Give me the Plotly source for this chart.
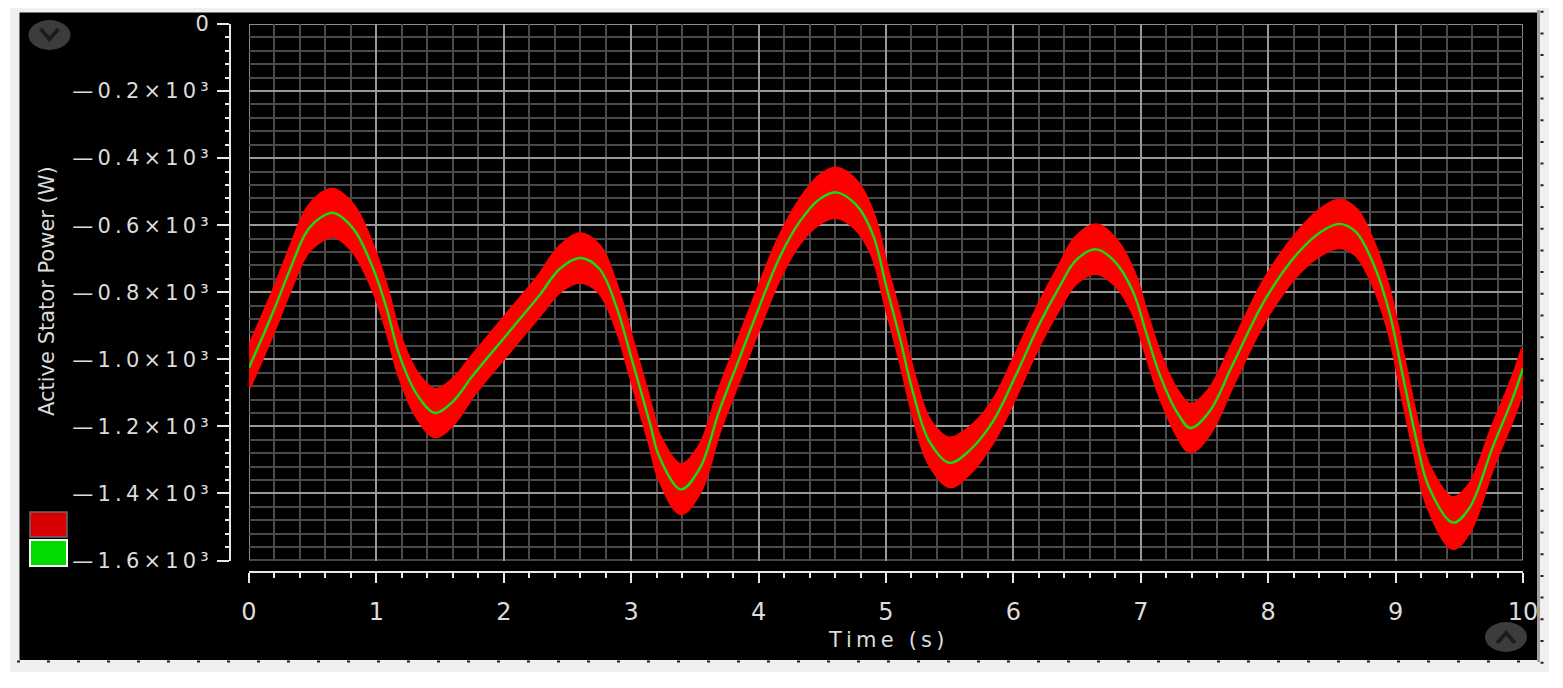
import plotly.graph_objects as go

# ---------------- data ----------------
time_s = [0.00, 0.19, 0.32, 0.45, 0.56, 0.66, 0.82, 0.975, 1.08, 1.18, 1.32, 1.46, 1.60, 1.76,
          2.02, 2.28, 2.44, 2.60, 2.75, 2.88, 3.01, 3.15, 3.22, 3.39, 3.54, 3.69, 3.85, 4.01,
          4.16, 4.32, 4.48, 4.61, 4.77, 4.90, 5.00, 5.11, 5.21, 5.34, 5.50, 5.65, 5.84, 6.02,
          6.20, 6.36, 6.49, 6.65, 6.80, 6.94, 7.04, 7.15, 7.28, 7.39, 7.54, 7.72, 7.98, 8.24,
          8.43, 8.56, 8.69, 8.82, 8.95, 9.05, 9.16, 9.26, 9.45, 9.58, 9.76, 9.92, 10.0]

green_w = [-1025, -858, -734, -621, -578, -563, -611, -730, -848, -987, -1106, -1160, -1126, -1047,
           -928, -809, -730, -698, -730, -839, -1007, -1195, -1290, -1388, -1324, -1155, -997, -839,
           -700, -591, -522, -502, -541, -631, -779, -938, -1096, -1245, -1309, -1274, -1185, -1047,
           -898, -785, -705, -672, -710, -799, -918, -1047, -1155, -1205, -1155, -1017, -819, -680,
           -616, -596, -621, -710, -858, -1037, -1235, -1380, -1487, -1443, -1264, -1115, -1027]

red_upper_w = [-967, -800, -676, -558, -510, -495, -545, -670, -790, -929, -1044, -1092, -1062, -989,
               -870, -751, -666, -628, -664, -779, -949, -1137, -1230, -1316, -1260, -1097, -939, -781,
               -642, -530, -455, -432, -473, -571, -721, -880, -1038, -1183, -1237, -1208, -1127, -989,
               -840, -725, -639, -601, -644, -739, -860, -989, -1093, -1137, -1091, -959, -761, -620,
               -550, -527, -555, -650, -800, -979, -1177, -1320, -1415, -1377, -1206, -1057, -969]

red_lower_w = [-1083, -916, -792, -684, -646, -631, -677, -790, -906, -1045, -1170, -1229, -1192, -1105,
               -986, -867, -796, -768, -798, -899, -1065, -1253, -1352, -1458, -1392, -1213, -1055, -897,
               -758, -652, -592, -575, -611, -693, -837, -996, -1154, -1309, -1378, -1340, -1243, -1105,
               -956, -845, -771, -742, -776, -859, -976, -1105, -1219, -1274, -1219, -1075, -877, -740,
               -682, -665, -687, -770, -916, -1095, -1293, -1442, -1562, -1511, -1322, -1173, -1085]

y_tick_values = [0, -200, -400, -600, -800, -1000, -1200, -1400, -1600]
y_tick_labels = ["0", "—0.2×10³", "—0.4×10³", "—0.6×10³", "—0.8×10³",
                 "—1.0×10³", "—1.2×10³", "—1.4×10³", "—1.6×10³"]
x_tick_values = [0, 1, 2, 3, 4, 5, 6, 7, 8, 9, 10]
x_tick_labels = ["0", "1", "2", "3", "4", "5", "6", "7", "8", "9", "10"]

x_title = "Time (s)"
y_title = "Active Stator Power (W)"

# ---------------- layout helpers (pixel -> paper) ----------------
W, H = 1563, 688
L, R, T, B = 230, 40, 24, 116
PW, PH = W - L - R, H - T - B


def px(x):
    return (x - L) / PW


def py(y):
    return (H - B - y) / PH


def spaced(s):
    return "\u2009".join(list(s))


TXT = "#dcdcdc"
FONT = "DejaVu Sans"
SMOOTH = 1.0

fig = go.Figure()

fig.add_trace(go.Scatter(x=time_s, y=red_lower_w, mode="lines",
                         line=dict(color="#ff0000", width=4.5, shape="spline", smoothing=SMOOTH),
                         hoverinfo="skip", showlegend=False))
fig.add_trace(go.Scatter(x=time_s, y=red_upper_w, mode="lines", fill="tonexty",
                         fillcolor="#ff0000",
                         line=dict(color="#ff0000", width=4.5, shape="spline", smoothing=SMOOTH),
                         hoverinfo="skip", showlegend=False))
fig.add_trace(go.Scatter(x=time_s, y=green_w, mode="lines",
                         line=dict(color="#10e010", width=2.4, shape="spline", smoothing=SMOOTH),
                         showlegend=False))

axis_common = dict(
    showline=True, linecolor="#e8e8e8", linewidth=2,
    ticks="outside", tickwidth=2, tickcolor="#e8e8e8",
    showgrid=True, gridcolor="#9a9a9a", gridwidth=1.5,
    zeroline=False, anchor="free", position=0,
)

fig.update_layout(
    width=W, height=H,
    margin=dict(l=L, r=R, t=T, b=B, pad=0),
    paper_bgcolor="white", plot_bgcolor="black",
    xaxis=dict(
        axis_common, range=[0, 10], domain=[19 / PW, 1],
        tickmode="array", tickvals=x_tick_values, ticktext=x_tick_labels,
        ticklen=10, ticklabelstandoff=8,
        tickfont=dict(family=FONT, size=24, color=TXT),
        minor=dict(tick0=0, dtick=0.2, ticks="outside", ticklen=5, tickwidth=2,
                   tickcolor="#e8e8e8", showgrid=True, gridcolor="#4a4a4a", gridwidth=1.5),
    ),
    yaxis=dict(
        axis_common, range=[-1600, 0], domain=[11.5 / PH, 1],
        tickmode="array", tickvals=y_tick_values,
        ticktext=[spaced(t) for t in y_tick_labels],
        ticklen=12, ticklabelstandoff=4,
        tickfont=dict(family=FONT, size=21, color=TXT),
        minor=dict(tick0=0, dtick=40, ticks="outside", ticklen=4, tickwidth=2,
                   tickcolor="#e8e8e8", showgrid=True, gridcolor="#4a4a4a", gridwidth=1.5),
    ),
    showlegend=False,
)

shapes = [
    # outer light-grey frame
    dict(type="rect", xref="paper", yref="paper", layer="below",
         x0=px(10), x1=px(1549), y0=py(672), y1=py(8),
         fillcolor="#f0f0f0", line=dict(width=0)),
    # black panel
    dict(type="rect", xref="paper", yref="paper", layer="below",
         x0=px(19.5), x1=px(1537), y0=py(660), y1=py(12.5),
         fillcolor="black", line=dict(width=0)),
    # right grey strip
    dict(type="line", xref="paper", yref="paper",
         x0=px(1538.5), x1=px(1538.5), y0=py(662), y1=py(10),
         line=dict(color="#a0a0a0", width=3)),
    # right ruler ticks
    dict(type="line", xref="paper", yref="paper",
         x0=px(1542), x1=px(1542), y0=py(10.7), y1=py(664),
         line=dict(color="#202020", width=3, dash="2px,19.7px")),
    # bottom dotted ruler
    dict(type="line", xref="paper", yref="paper",
         x0=px(17), x1=px(1546), y0=py(661.5), y1=py(661.5),
         line=dict(color="#202020", width=2, dash="3px,27px")),
    # plot border
    dict(type="rect", xref="x", yref="y", layer="below",
         x0=0, x1=10, y0=-1600, y1=0, line=dict(color="#8a8a8a", width=2)),
    # legend swatches
    dict(type="rect", xref="paper", yref="paper",
         x0=px(30), x1=px(67), y0=py(537), y1=py(512),
         fillcolor="#d80000", line=dict(color="#6a6a6a", width=1.5)),
    dict(type="rect", xref="paper", yref="paper",
         x0=px(30), x1=px(67), y0=py(566), y1=py(540),
         fillcolor="#00dc00", line=dict(color="white", width=2)),
    # top-left round button
    dict(type="circle", xref="paper", yref="paper",
         x0=px(28.5), x1=px(70.5), y0=py(50), y1=py(20),
         fillcolor="#3c3c3c", line=dict(width=0)),
    dict(type="path", xref="paper", yref="paper",
         path="M {} {} L {} {} L {} {}".format(px(40.5), py(29), px(49.5), py(39), px(58.5), py(29)),
         line=dict(color="#1c1c1c", width=4)),
    # bottom-right round button
    dict(type="circle", xref="paper", yref="paper",
         x0=px(1485), x1=px(1527), y0=py(652), y1=py(622),
         fillcolor="#3c3c3c", line=dict(width=0)),
    dict(type="path", xref="paper", yref="paper",
         path="M {} {} L {} {} L {} {}".format(px(1497), py(643), px(1506), py(633), px(1515), py(643)),
         line=dict(color="#1c1c1c", width=4)),
]
fig.update_layout(shapes=shapes)

fig.add_annotation(x=px(886), y=py(640), xref="paper", yref="paper",
                   text=spaced(x_title), showarrow=False, xanchor="center", yanchor="middle",
                   font=dict(family=FONT, size=21, color=TXT))
fig.add_annotation(x=px(47), y=py(291), xref="paper", yref="paper",
                   text=y_title, textangle=-90, showarrow=False,
                   xanchor="center", yanchor="middle",
                   font=dict(family=FONT, size=21, color=TXT))

fig.write_html("out.html", config={"displayModeBar": False},
               post_script="document.body.style.margin='0';")
